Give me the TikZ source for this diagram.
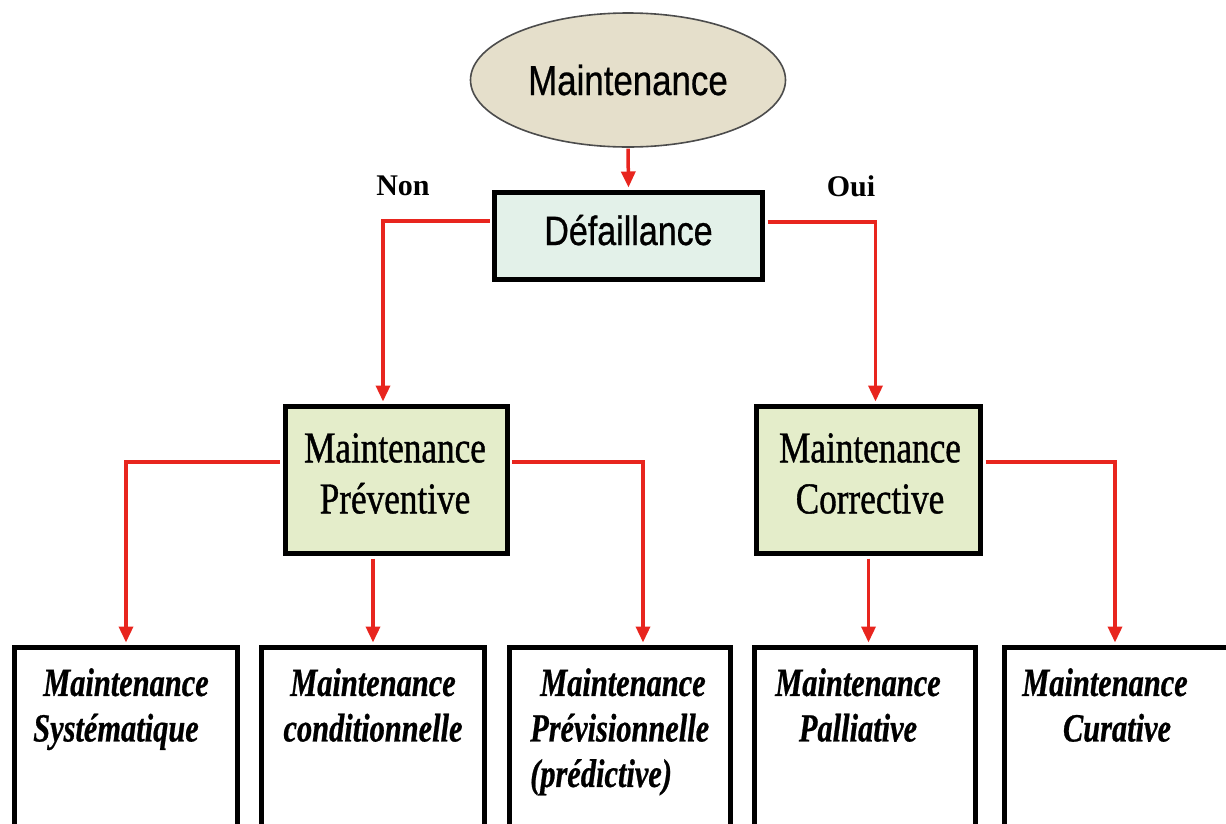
\documentclass[tikz,border=0pt]{standalone}
\usepackage{fontspec}
\usetikzlibrary{shapes.geometric,arrows.meta}
% condensed faces for the three levels of the tree
\newfontfamily\headsans[FakeStretch=0.83,FakeBold=0.6]{Liberation Sans}
\newfontfamily\midserif[FakeStretch=0.8,FakeBold=0.9]{Liberation Serif}
\newfontfamily\leafserif[FakeStretch=0.76,FakeBold=0.6]{Liberation Serif}
\newfontfamily\tagserif{Liberation Serif}
\definecolor{linkred}{HTML}{E8251E}
\definecolor{rootfill}{HTML}{E5DFCB}
\definecolor{deffill}{HTML}{E3F1E9}
\definecolor{midfill}{HTML}{E4EDCA}
\begin{document}
\begin{tikzpicture}[x=1pt,y=-1pt,
  link/.style={draw=linkred, line width=3.5pt, shorten <=2.5pt, shorten >=2.5pt,
               -{Triangle[length=16pt,width=14pt]}},
  boxframe/.style={draw=black, line width=5pt, inner sep=0pt},
  midbox/.style={boxframe, fill=midfill, minimum width=222pt, minimum height=147pt},
  leafbox/.style={boxframe, fill=white, minimum height=184.5pt},
  midtext/.style={inner sep=0pt, anchor=north, align=center,
                  font=\midserif\fontsize{44}{51}\selectfont},
  leaftext/.style={inner sep=0pt, anchor=north, align=center,
                   font=\leafserif\bfseries\itshape\fontsize{40}{45.5}\selectfont},
  tag/.style={inner sep=0pt, font=\tagserif\bfseries\fontsize{30}{34}\selectfont}]
\useasboundingbox (0,0) rectangle (1226,823);
\clip (0,0) rectangle (1226,823);

% top of the tree
\node[ellipse, draw=black!70, line width=1.6pt, fill=rootfill, inner sep=0pt,
      minimum width=315pt, minimum height=134pt,
      font=\headsans\fontsize{42}{48}\selectfont] (root) at (628,80) {Maintenance};
\node[boxframe, fill=deffill, minimum width=268pt, minimum height=87pt,
      text height=28pt, text depth=10pt,
      font=\headsans\fontsize{41}{46}\selectfont] (def) at (628.5,236) {Défaillance};

% second level
\node[midbox] (prev) at (396,480) {};
\node[midtext] (prevtext) at (395,433) {Maintenance\\Préventive};
\node[midbox, minimum width=224pt] (corr) at (868.5,480) {};
\node[midtext] (corrtext) at (870,433) {Maintenance\\Corrective};

% leaves
\node[leafbox, minimum width=223pt] (b1) at (126,739.75) {};
\node[leafbox, minimum width=223pt] (b2) at (373,739.75) {};
\node[leafbox, minimum width=221pt] (b3) at (620,739.75) {};
\node[leafbox, minimum width=221pt] (b4) at (865,739.75) {};
\node[leafbox, minimum width=225pt] (b5) at (1117,739.75) {};

\node[leaftext] (t1) at (126,668) {Maintenance\\Systématique\kern20pt};
\node[leaftext] (t2) at (373,668) {Maintenance\\conditionnelle};
\node[leaftext, anchor=north west, align=left] (t3) at (530,668)
     {\kern10pt Maintenance\\Prévisionnelle\\(prédictive)};
\node[leaftext] (t4) at (858,668) {Maintenance\\Palliative};
\node[leaftext] (t5) at (1105,668) {Maintenance\\\kern24pt Curative};

% branch labels
\node[tag] (non) at (403,186) {Non};
\node[tag] (oui) at (851,186) {Oui};

% connectors
\draw[link, shorten <=0.8pt] (root.south) -- (def.north);
\draw[link] ([yshift=15pt]def.west) -| ([xshift=-13pt]prev.north);
\draw[link] ([yshift=14pt]def.east) -| ([xshift=7pt]corr.north);
\draw[link] ([yshift=18pt]prev.west) -| (b1.north);
\draw[link] (prev.south -| b2.north) -- (b2.north);
\draw[link] ([yshift=18pt]prev.east) -| ([xshift=23pt]b3.north);
\draw[link] (corr.south) -- (corr.south |- b4.north);
\draw[link] ([yshift=18pt]corr.east) -| ([xshift=-2pt]b5.north);
\end{tikzpicture}
\end{document}
